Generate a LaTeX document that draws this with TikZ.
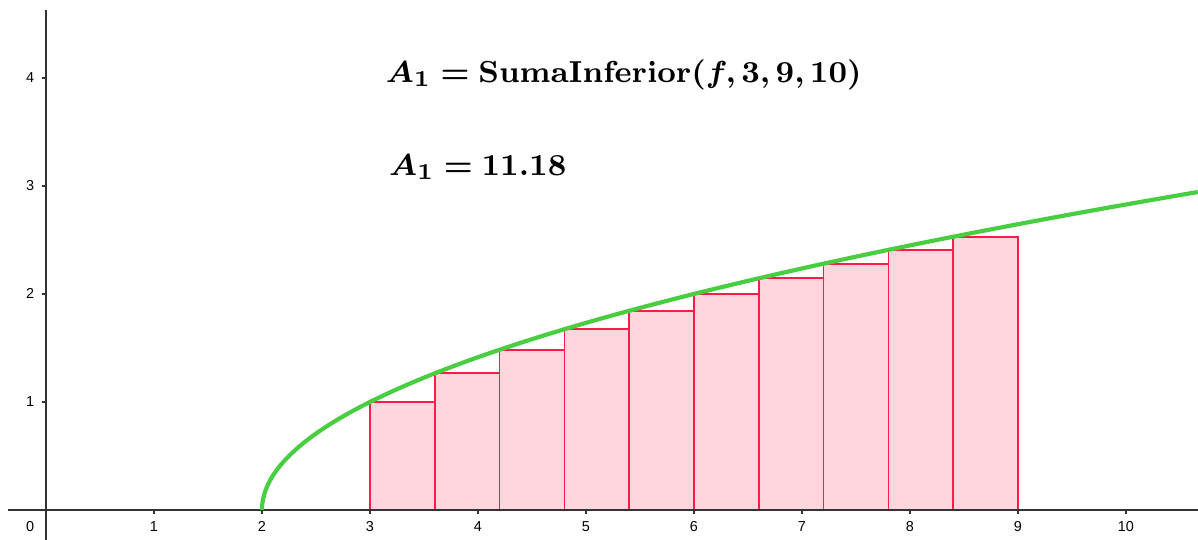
\documentclass[tikz,border=0pt]{standalone}
\usepackage{amsmath,amssymb,bm}
\usepackage{fontspec}
\newfontfamily\ticksfont{Liberation Sans}
\usetikzlibrary{positioning}

\definecolor{curvegreen}{RGB}{72,206,64}
\definecolor{barfill}{RGB}{255,214,222}
\definecolor{barline}{RGB}{255,28,72}

\begin{document}
\begin{tikzpicture}[
    x=1cm, y=1cm,
    axis/.style={draw=black!80, line width=0.4pt},
    tickmark/.style={draw=black!80, line width=0.35pt},
    ticklabel/.style={font=\ticksfont\fontsize{3.8}{4}\selectfont, inner sep=0pt},
    bar/.style={draw=barline, fill=barfill, line width=0.45pt},
    fcurve/.style={draw=curvegreen, line width=1.1pt},
    sumtext/.style={anchor=base west, inner sep=0pt, font=\fontsize{8.4}{10}\selectfont}
]
\useasboundingbox (-0.426,-0.278) rectangle (10.667,4.722);

% lower sum bars, f(x)=sqrt(x-2), 10 bars from 3 to 9
\foreach \i in {0,...,9}{
  \pgfmathsetmacro{\xl}{3+0.6*\i}
  \pgfmathsetmacro{\xr}{\xl+0.6}
  \pgfmathsetmacro{\hb}{sqrt(\xl-2)}
  \draw[bar] (\xl,0) rectangle (\xr,\hb);
}

% axes
\draw[axis] (-0.352,0) -- (10.667,0);
\draw[axis] (0,-0.278) -- (0,4.63);

% ticks and labels
\foreach \k in {1,...,10}{
  \draw[tickmark] (\k,0) -- (\k,-0.037);
  \node[ticklabel] (xl\k) at (\k,-0.157) {\k};
}
\foreach \k in {1,...,4}{
  \draw[tickmark] (0,\k) -- (-0.037,\k);
  \node[ticklabel] (yl\k) at (-0.148,\k) {\k};
}
\node[ticklabel] (orig) at (-0.148,-0.157) {0};

% graph of f
\draw[fcurve, domain=0:2.944, samples=80, smooth, variable=\t] plot ({2+\t*\t},{\t});

% texts
\path (3.14,3.96) node[sumtext] (sumcmd) {\(\bm{A_1 = \mathbf{SumaInferior}(f, 3, 9, 10)}\)};
\path (3.17,3.10) node[sumtext] (sumval) {\(\bm{A_1 = 11.18}\)};

\end{tikzpicture}
\end{document}
